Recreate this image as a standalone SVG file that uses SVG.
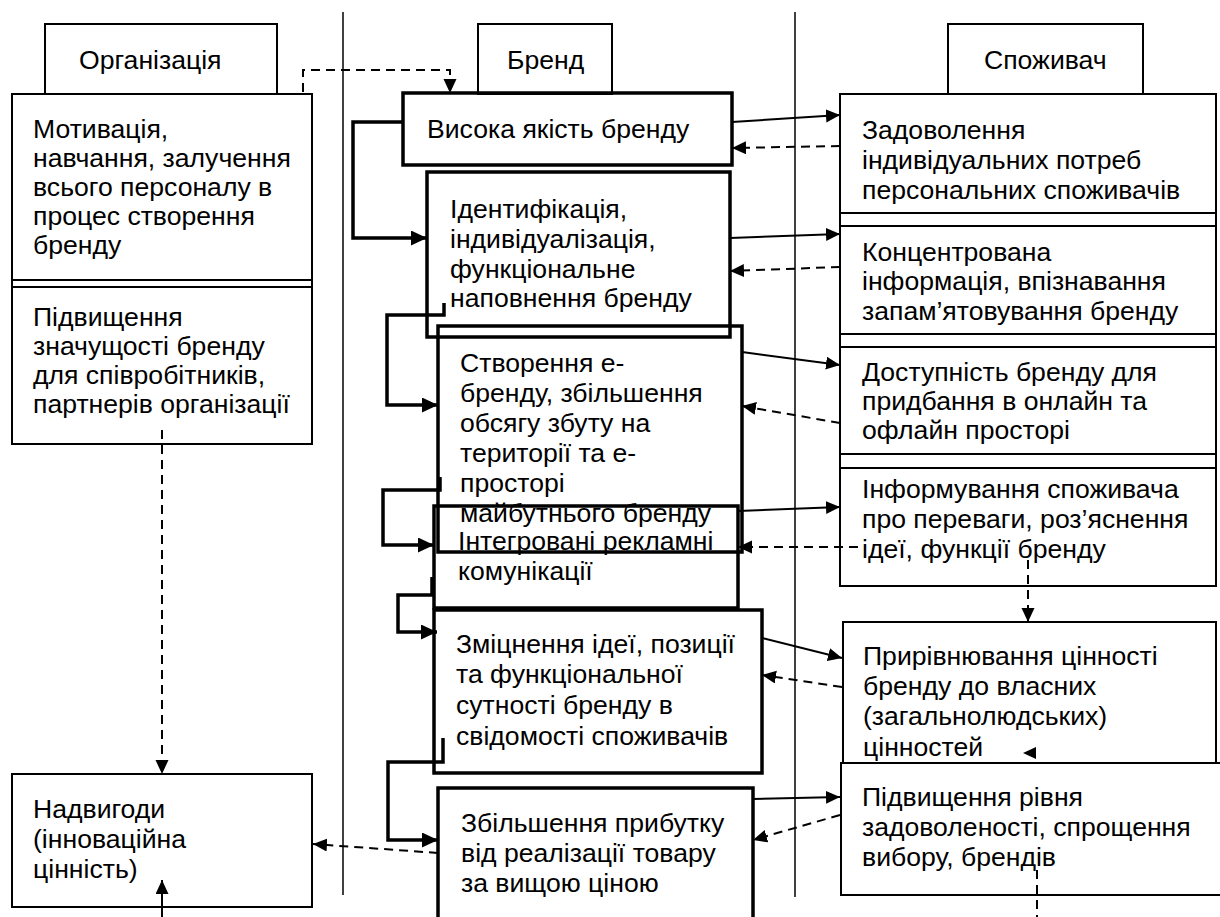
<svg xmlns="http://www.w3.org/2000/svg" width="1220" height="917" viewBox="0 0 1220 917">
<defs>
<marker id="ah" markerUnits="userSpaceOnUse" markerWidth="16" markerHeight="14" refX="14" refY="6.5" orient="auto"><path d="M0,0 L14,6.5 L0,13 z" fill="#000"/></marker>
<marker id="ahb" markerUnits="userSpaceOnUse" markerWidth="18" markerHeight="16" refX="16" refY="7.5" orient="auto"><path d="M0,0 L16,7.5 L0,15 z" fill="#000"/></marker>
</defs>
<style>
.t{font-family:"Liberation Sans",Arial,sans-serif;font-size:26.6px;fill:#000}
.box{fill:#fff;stroke:#000;stroke-width:2}
.tbox{fill:none;stroke:#000;stroke-width:3.5}
.lane{stroke:#000;stroke-width:1.5;fill:none}
.sol{stroke:#000;stroke-width:2;fill:none}
.dash{stroke:#000;stroke-width:2;fill:none;stroke-dasharray:9 6}
.elb{stroke:#000;stroke-width:3.5;fill:none}
</style>
<rect width="1220" height="917" fill="#fff"/>
<g id="lanes">
<line class="lane" x1="343" y1="12" x2="343" y2="895"/>
<line class="lane" x1="795" y1="12" x2="795" y2="897"/>
</g>
<g id="h-org"><rect class="box" x="45" y="24" width="232" height="70"/><text class="t" x="79" y="69">Організація</text></g>
<g id="h-brand"><rect class="box" x="478" y="24" width="134" height="70"/><text class="t" x="507" y="69">Бренд</text></g>
<g id="h-cons"><rect class="box" x="948" y="24" width="195" height="70"/><text class="t" x="984" y="69">Споживач</text></g>

<g id="org1"><rect class="box" x="12" y="94" width="300" height="193"/><line class="sol" x1="12" y1="280" x2="312" y2="280"/>
<text class="t"><tspan x="33" y="137.5">Мотивація,</tspan><tspan x="33" y="166.5">навчання, залучення</tspan><tspan x="33" y="195.5">всього персоналу в</tspan><tspan x="33" y="224.5">процес створення</tspan><tspan x="33" y="253.5">бренду</tspan></text></g>
<g id="org2"><rect class="box" x="12" y="287" width="300" height="157"/>
<text class="t"><tspan x="33" y="326">Підвищення</tspan><tspan x="33" y="355">значущості бренду</tspan><tspan x="33" y="384">для співробітників,</tspan><tspan x="33" y="413">партнерів організації</tspan></text></g>
<g id="org3"><rect class="box" x="12" y="774" width="300" height="133"/>
<text class="t"><tspan x="33" y="818">Надвигоди</tspan><tspan x="33" y="848">(інноваційна</tspan><tspan x="33" y="878">цінність)</tspan></text></g>

<g id="c1"><rect class="box" x="840" y="94" width="376" height="132"/><line class="sol" x1="840" y1="213" x2="1216" y2="213"/>
<text class="t"><tspan x="862" y="139">Задоволення</tspan><tspan x="862" y="169">індивідуальних потреб</tspan><tspan x="862" y="199">персональних споживачів</tspan></text></g>
<g id="c2"><rect class="box" x="840" y="226" width="376" height="121"/><line class="sol" x1="840" y1="334" x2="1216" y2="334"/>
<text class="t"><tspan x="862" y="261">Концентрована</tspan><tspan x="862" y="290">інформація, впізнавання</tspan><tspan x="862" y="320">запам’ятовування бренду</tspan></text></g>
<g id="c3"><rect class="box" x="840" y="347" width="376" height="121"/><line class="sol" x1="840" y1="454" x2="1216" y2="454"/>
<text class="t"><tspan x="862" y="381">Доступність бренду для</tspan><tspan x="862" y="410">придбання в онлайн та</tspan><tspan x="862" y="439">офлайн просторі</tspan></text></g>
<g id="c4"><rect class="box" x="840" y="468" width="376" height="118"/>
<text class="t"><tspan x="862" y="498">Інформування споживача</tspan><tspan x="862" y="528">про переваги, роз’яснення</tspan><tspan x="862" y="558">ідеї, функції бренду</tspan></text></g>
<g id="c5"><rect class="box" x="843" y="622" width="373" height="160"/>
<text class="t"><tspan x="863" y="665">Прирівнювання цінності</tspan><tspan x="863" y="695">бренду до власних</tspan><tspan x="863" y="725">(загальнолюдських)</tspan><tspan x="863" y="756">цінностей</tspan></text></g>
<g id="c6"><rect class="box" x="841" y="763" width="390" height="132"/>
<text class="t"><tspan x="862" y="806">Підвищення рівня</tspan><tspan x="862" y="836">задоволеності, спрощення</tspan><tspan x="862" y="866">вибору, брендів</tspan></text></g>

<g id="b1"><rect class="tbox" x="403" y="93" width="329" height="72"/><text class="t" x="427" y="138">Висока якість бренду</text></g>
<g id="b2"><rect class="tbox" x="427" y="172" width="303" height="165"/>
<text class="t"><tspan x="450" y="218">Ідентифікація,</tspan><tspan x="450" y="248">індивідуалізація,</tspan><tspan x="450" y="278">функціональне</tspan><tspan x="450" y="307">наповнення бренду</tspan></text></g>
<g id="b3"><rect class="tbox" x="438" y="326" width="304" height="226"/>
<text class="t"><tspan x="460" y="372">Створення е-</tspan><tspan x="460" y="402">бренду, збільшення</tspan><tspan x="460" y="432">обсягу збуту на</tspan><tspan x="460" y="462">території та е-</tspan><tspan x="460" y="492">просторі</tspan><tspan x="460" y="522">майбутнього бренду</tspan></text></g>
<g id="b4"><rect class="tbox" x="434" y="506" width="304" height="102"/>
<text class="t"><tspan x="458" y="550">Інтегровані рекламні</tspan><tspan x="458" y="580">комунікації</tspan></text></g>
<g id="b5"><rect class="tbox" x="434" y="610" width="328" height="163"/>
<text class="t"><tspan x="456" y="653">Зміцнення ідеї, позиції</tspan><tspan x="456" y="683">та функціональної</tspan><tspan x="456" y="714">сутності бренду в</tspan><tspan x="456" y="745">свідомості споживачів</tspan></text></g>
<g id="b6"><rect class="tbox" x="438" y="788" width="315" height="150"/>
<text class="t"><tspan x="461" y="832">Збільшення прибутку</tspan><tspan x="461" y="862">від реалізації товару</tspan><tspan x="461" y="892">за вищою ціною</tspan></text></g>

<g id="connectors">
<path class="elb" d="M403,122 H353 V238 H427" marker-end="url(#ahb)"/>
<path class="elb" d="M444,303 V315 H387 V405 H438" marker-end="url(#ahb)"/>
<path class="elb" d="M440,477 V490 H383 V545 H434" marker-end="url(#ahb)"/>
<path class="elb" d="M432,577 V595 H398 V632 H437" marker-end="url(#ahb)"/>
<path class="elb" d="M443,738 V762 H388 V840 H438" marker-end="url(#ahb)"/>
<path class="dash" d="M303,92 V70 H450 V93" marker-end="url(#ah)"/>
<path class="dash" d="M162,430 V774" marker-end="url(#ah)"/>
<path class="sol" d="M162,917 V880" marker-end="url(#ah)"/>
<path class="dash" d="M1028,560 V622" marker-end="url(#ah)"/>
<path class="dash" d="M1037,870 V917"/>
<polygon points="1023,753 1036,747 1036,759" fill="#000"/>
<path class="sol" d="M732,122 L840,115" marker-end="url(#ah)"/>
<path class="sol" d="M730,238 L840,234" marker-end="url(#ah)"/>
<path class="sol" d="M742,352 L840,365" marker-end="url(#ah)"/>
<path class="sol" d="M738,511 L840,507" marker-end="url(#ah)"/>
<path class="sol" d="M762,638 L842,658" marker-end="url(#ah)"/>
<path class="sol" d="M753,799 L840,797" marker-end="url(#ah)"/>
<path class="dash" d="M840,146 L732,148" marker-end="url(#ah)"/>
<path class="dash" d="M840,267 L730,271" marker-end="url(#ah)"/>
<path class="dash" d="M840,423 L742,406" marker-end="url(#ah)"/>
<path class="dash" d="M858,547 L738,547" marker-end="url(#ah)"/>
<path class="dash" d="M842,687 L762,675" marker-end="url(#ah)"/>
<path class="dash" d="M840,815 L753,840" marker-end="url(#ah)"/>
<path class="dash" d="M438,853 L313,844" marker-end="url(#ah)"/>
</g>
</svg>
